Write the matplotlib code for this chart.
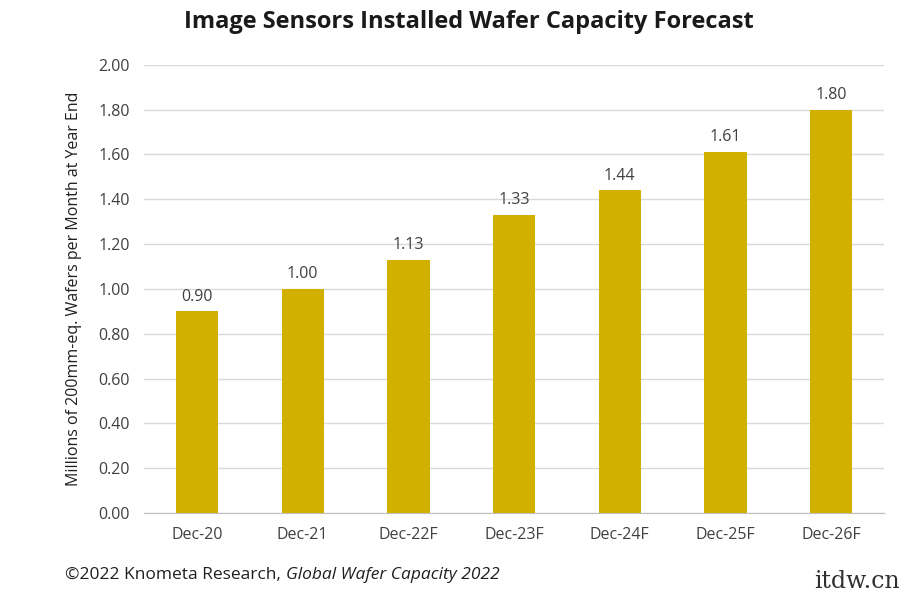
import matplotlib
matplotlib.use("Agg")
import matplotlib.pyplot as plt
import numpy as np

# Dados
categorias = ["Dec-20", "Dec-21", "Dec-22F", "Dec-23F", "Dec-24F", "Dec-25F", "Dec-26F"]
capacidade = [0.90, 1.00, 1.13, 1.33, 1.44, 1.61, 1.80]
ticks_y = [0.0, 0.2, 0.4, 0.6, 0.8, 1.0, 1.2, 1.4, 1.6, 1.8, 2.0]

COR_BARRA = "#D1B000"
COR_TEXTO = "#404040"
FONTE = ["Open Sans", "DejaVu Sans"]

plt.rcParams["font.family"] = FONTE

fig = plt.figure(figsize=(9.18, 5.89), dpi=100)
ax = fig.add_axes([0.157, 0.129, 0.806, 0.761])

x = np.arange(len(categorias))
ax.bar(x, capacidade, width=0.4, color=COR_BARRA, zorder=3)
for xi, v in zip(x, capacidade):
    ax.text(xi, v + 0.03, f"{v:.2f}", ha="center", va="bottom", fontsize=11.5, color=COR_TEXTO)

ax.set_xlim(-0.5, len(categorias) - 0.5)
ax.set_ylim(0, 2.0)
ax.set_yticks(ticks_y)
ax.set_yticklabels([f"{t:.2f}" for t in ticks_y], fontsize=11.5, color=COR_TEXTO)
ax.set_xticks(x)
ax.set_xticklabels(categorias, fontsize=11.5, color=COR_TEXTO)
ax.tick_params(axis="both", length=0, pad=10)
ax.grid(axis="y", color="#D9D9D9", linewidth=1, zorder=0)
for lado in ["top", "right", "left"]:
    ax.spines[lado].set_visible(False)
ax.spines["bottom"].set_color("#BFBFBF")

ax.set_ylabel("Millions of 200mm-eq. Wafers per Month at Year End", fontsize=11.5, color="#202020", labelpad=12)

fig.text(0.511, 0.962, "Image Sensors Installed Wafer Capacity Forecast",
         ha="center", va="center", fontsize=17, fontweight="bold", color="#1a1a1a")

# rodapé: parte normal + parte itálica logo em seguida
t1 = fig.text(0.071, 0.024, "©2022 Knometa Research, ", ha="left", va="center", fontsize=12.5, color="#202020")
fig.canvas.draw()
bb = t1.get_window_extent(renderer=fig.canvas.get_renderer())
x_fim = fig.transFigure.inverted().transform((bb.x1, bb.y0))[0]
fig.text(x_fim, 0.024, "Global Wafer Capacity 2022", ha="left", va="center", fontsize=12.5,
         style="italic", color="#202020")

# marca d'água (cortada na borda, como no original)
fig.text(0.887, 0.013, "itdw.cn", ha="left", va="center", fontsize=17, family="DejaVu Serif", color="#303030")

fig.savefig("out.png", dpi=100, facecolor="white")
